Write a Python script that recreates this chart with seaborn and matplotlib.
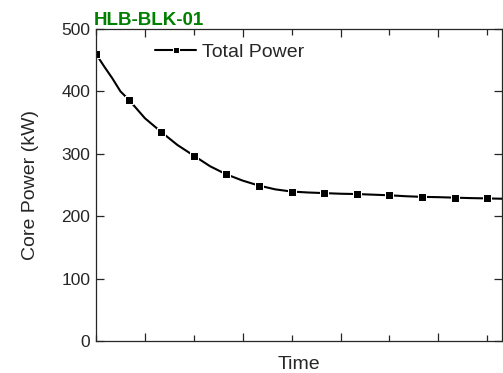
import matplotlib
matplotlib.use("Agg")
import matplotlib.pyplot as plt
import seaborn as sns
from matplotlib.ticker import FixedLocator, NullFormatter

# ---------------------------------
# Data
# ---------------------------------

time = [0, 0.25, 0.5, 0.75, 1, 1.5, 2, 2.5, 3, 3.5, 4, 4.5, 5, 5.5,
        6, 6.5, 7, 7.5, 8, 8.5, 9, 9.5, 10, 10.5, 11, 11.5, 12, 12.45]
power = [460, 440, 421, 400, 387, 357, 335, 314, 297, 280, 267, 257, 249, 243,
         239.5, 238, 237, 236, 235.5, 234.5, 233.5, 232, 231, 230.5, 229.7, 229, 228.5, 228]

# markers sit on whole time steps
marker_idx = [i for i, t in enumerate(time) if float(t).is_integer()]

# ---------------------------------
# Style
# ---------------------------------

sns.set_style("ticks")
plt.rcParams["font.family"] = ["Liberation Sans", "DejaVu Sans"]

fig = plt.figure(figsize=(5.03, 3.73), dpi=100)
ax = fig.add_axes([96 / 503, 1 - 341 / 373, 406 / 503, 312 / 373])

sns.lineplot(
    x=time,
    y=power,
    ax=ax,
    color="black",
    linewidth=1.5,
    marker="s",
    markersize=5.5,
    markevery=marker_idx,
    label="Total Power",
)

ax.set_xlim(0, 12.45)
ax.set_ylim(0, 500)
ax.set_yticks([0, 100, 200, 300, 400, 500])
ax.xaxis.set_major_locator(FixedLocator([1.5, 4.5, 7.5, 10.5]))
ax.xaxis.set_minor_locator(FixedLocator([0, 3, 6, 9, 12]))
ax.xaxis.set_major_formatter(NullFormatter())

ax.tick_params(which="both", direction="in", top=True, right=True, width=0.9)
ax.tick_params(which="major", length=6)
ax.tick_params(which="minor", length=4)
ax.tick_params(axis="y", labelsize=12.5, pad=4)

for s in ax.spines.values():
    s.set_linewidth(0.9)
    s.set_visible(True)

ax.set_xlabel("Time", fontsize=14, labelpad=7)
ax.set_ylabel("Core Power (kW)", fontsize=14, labelpad=16)

ax.set_title("HLB-BLK-01", loc="left", fontsize=13.5, fontweight="bold",
             color="#008000", pad=3, x=-0.005)

leg = ax.legend(loc="upper left", bbox_to_anchor=(0.103, 1.01), frameon=False,
                fontsize=14, handlelength=2.1, handletextpad=0.3)
leg.legend_handles[0].set_markersize(4.5)

fig.savefig("out.png", dpi=100)
